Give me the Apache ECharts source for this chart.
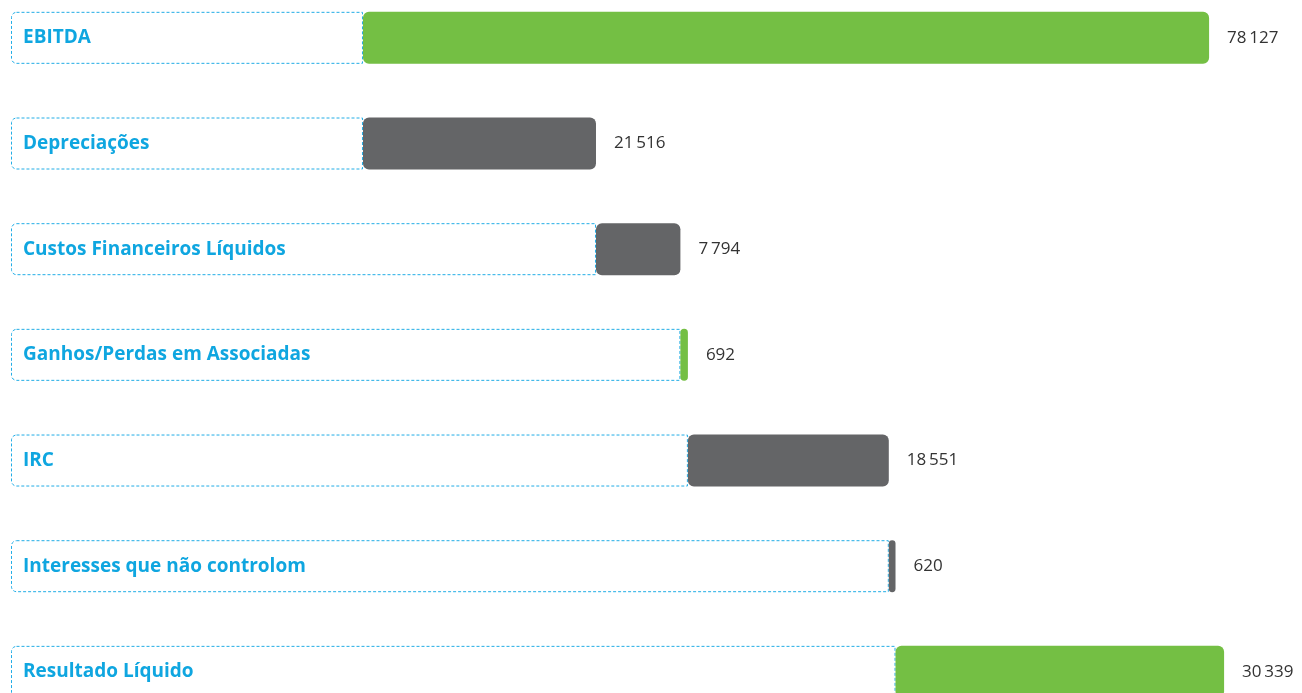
<!DOCTYPE html>
<html>
<head>
<meta charset="utf-8">
<style>
html,body{margin:0;padding:0;background:#fff;overflow:hidden;width:1302px;height:693px;}
#chart{position:absolute;left:0;top:-14.8px;width:1302px;height:740px;}
</style>
<script src="https://cdn.jsdelivr.net/npm/echarts@6/dist/echarts.min.js"></script>
</head>
<body>
<div id="chart"></div>
<script>
const categories = ['EBITDA','Depreciações','Custos Financeiros Líquidos','Ganhos/Perdas em Associadas','IRC','Interesses que não controlom','Resultado Líquido'];
const values = [78127, 21516, 7794, 692, 18551, 620, 30339];
const kinds = ['pos','neg','neg','pos','neg','neg','pos'];

const GREEN = '#74bf44', GREY = '#646567', BLUE = '#0fa6e0';
const LABEL_AREA = 32500;   // width of the label box in axis units
const SCALE_MAX = 115000;
const PX_PER_UNIT = 0.01083;

// start of each bar: EBITDA and first deduction start at zero, the rest chain on
const starts = [];
for (let i = 0; i < values.length; i++) {
  if (i < 2) starts.push(0);
  else starts.push(starts[i-1] + values[i-1]);
}

function fmt(v){ return String(v).replace(/\B(?=(\d{3})+(?!\d))/g, '\u2009'); }

const chart = echarts.init(document.getElementById('chart'), null, {renderer:'canvas'});
chart.setOption({
  animation: false,
  grid: {left: 11, top: 0, width: SCALE_MAX * PX_PER_UNIT, height: 739.7, containLabel: false},
  xAxis: {type:'value', min:0, max:SCALE_MAX, show:false},
  yAxis: {type:'category', data:categories, inverse:true, show:false},
  series: [
    {
      type:'bar', stack:'w', barWidth:52, silent:true,
      data: starts.map((s,i)=>({value: LABEL_AREA + s, name: categories[i]})),
      itemStyle:{color:'rgba(255,255,255,0)', borderColor:'#22ade6', borderWidth:1, borderType:[3,2], borderRadius:[5,0,0,5]},
      label:{show:true, position:'insideLeft', distance:12, formatter:p=>p.name,
             color:BLUE, fontFamily:'"Open Sans", "Noto Sans", sans-serif', fontWeight:'bold', fontSize:19}
    },
    {
      type:'bar', stack:'w', barWidth:52, silent:true,
      data: values.map((v,i)=>({value:v, itemStyle:{color: kinds[i]==='pos'?GREEN:GREY}})),
      itemStyle:{borderRadius:6},
      label:{show:true, position:'right', distance:18, formatter:p=>fmt(p.value),
             color:'#333', fontFamily:'"Open Sans", Lato, sans-serif', fontSize:17}
    }
  ]
});
</script>
</body>
</html>
